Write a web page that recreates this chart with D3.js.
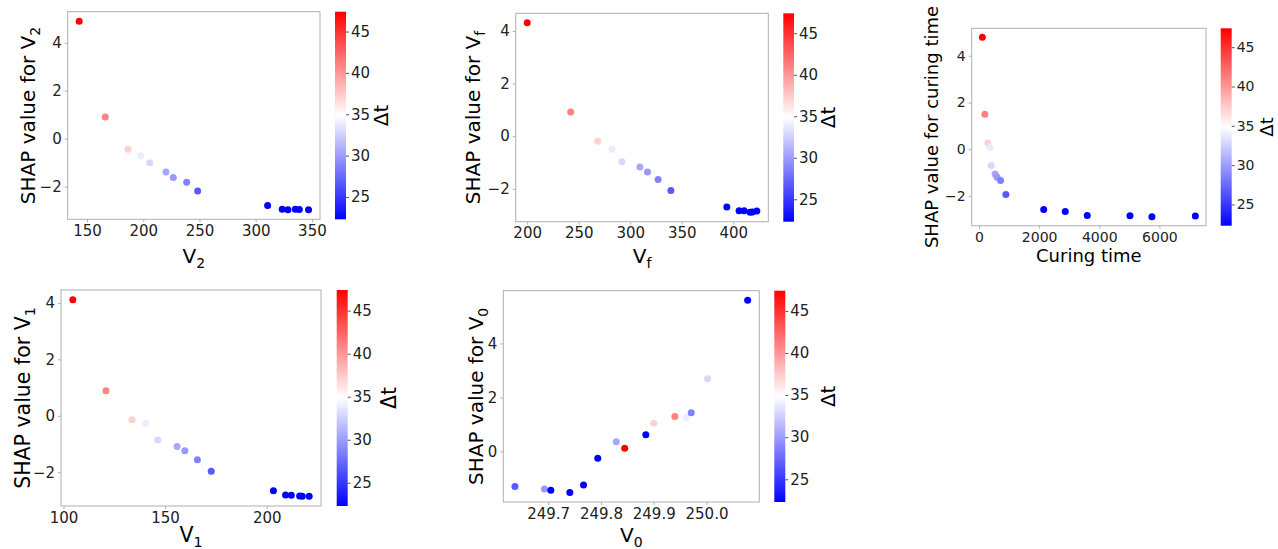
<!DOCTYPE html>
<html><head><meta charset="utf-8">
<script src="https://cdn.jsdelivr.net/npm/d3@7"></script>
<style>
body{margin:0;background:#fff}
svg{display:block}
text{font-family:"DejaVu Sans",sans-serif}
</style>
</head><body>
<svg id="chart" width="1278" height="549"></svg>
<script>
// ---------- data (15 samples, same order in every panel) ----------
const deltaT   = [47.4, 41.0, 37.1, 33.9, 32.9, 30.5, 29.8, 28.7, 26.7, 22.3, 22.3, 22.3, 22.3, 22.3, 22.3];

const v2       = [143, 166.2, 186.4, 197.7, 205.7, 220.2, 226.7, 238.6, 248.4, 310.6, 323.6, 328.7, 335.2, 338.8, 347];
const shapV2   = [4.90, 0.90, -0.44, -0.71, -1.01, -1.39, -1.62, -1.82, -2.18, -2.79, -2.94, -2.97, -2.94, -2.96, -2.97];

const vf       = [200, 242.2, 268.4, 282.2, 291.9, 309.4, 316.8, 327.1, 339.5, 393.8, 405.7, 410.6, 416.4, 418.7, 422.9];
const shapVf   = [4.31, 0.92, -0.19, -0.50, -0.97, -1.17, -1.36, -1.65, -2.06, -2.69, -2.83, -2.83, -2.89, -2.88, -2.84];

const curing     = [111, 196, 293, 359, 404, 535, 600, 717, 893, 2152, 2869, 3600, 5021, 5751, 7196];
const shapCuring = [4.79, 1.50, 0.27, 0.07, -0.70, -1.06, -1.20, -1.34, -1.94, -2.58, -2.67, -2.84, -2.85, -2.89, -2.86];

const v1       = [104.6, 120.9, 133.7, 140.4, 146.4, 155.9, 159.7, 165.9, 172.7, 203.3, 209.3, 212.1, 216.2, 217.5, 220.9];
const shapV1   = [4.11, 0.89, -0.14, -0.27, -0.86, -1.09, -1.24, -1.56, -1.97, -2.66, -2.81, -2.82, -2.84, -2.85, -2.85];

const v0       = [249.845, 249.94, 249.90, 249.961, 250.002, 249.829, 249.693, 249.971, 249.637, 249.705, 249.741, 249.767, 249.794, 249.885, 250.078];
const shapV0   = [0.12, 1.29, 1.04, 1.25, 2.69, 0.36, -1.39, 1.43, -1.30, -1.44, -1.52, -1.25, -0.25, 0.62, 5.60];

const ticksV2     = [150, 200, 250, 300, 350];
const ticksVf     = [200, 250, 300, 350, 400];
const ticksCuring = [0, 2000, 4000, 6000];
const ticksV1     = [100, 150, 200];
const ticksV0     = [249.7, 249.8, 249.9, 250.0];
const ticksShap   = [-2, 0, 2, 4];
const ticksShapV0 = [0, 2, 4];
const ticksDeltaT = [25, 30, 35, 40, 45];

const colorLabel = ["Δt", ""];

// ---------- layout (positions / styles only) ----------
const panels = [
  {x: v2, y: shapV2, xt: ticksV2, yt: ticksShap, xf: "d",
   xl: ["V","2"], yl: ["SHAP value for V","2"],
   box:[67.7,320,11.7,219.3], cb:[335,346], ylx:28, xly:263, cbl:381, tfs:15, lfs:20},
  {x: vf, y: shapVf, xt: ticksVf, yt: ticksShap, xf: "d",
   xl: ["V","f"], yl: ["SHAP value for V","f"],
   box:[515.7,768.3,13.3,221.7], cb:[783.3,794], ylx:473, xly:263, cbl:828, tfs:15, lfs:20},
  {x: curing, y: shapCuring, xt: ticksCuring, yt: ticksShap, xf: "d",
   xl: ["Curing time",""], yl: ["SHAP value for curing time",""],
   box:[971.7,1206,28.3,225.7], cb:[1220.7,1231.7], ylx:932, xly:262, cbl:1267, tfs:14, lfs:18},
  {x: v1, y: shapV1, xt: ticksV1, yt: ticksShap, xf: "d",
   xl: ["V","1"], yl: ["SHAP value for V","1"],
   box:[61,321,290,506], cb:[336.7,347.7], ylx:23, xly:542, cbl:389, tfs:15, lfs:20.5},
  {x: v0, y: shapV0, xt: ticksV0, yt: ticksShapV0, xf: ".1f",
   xl: ["V","0"], yl: ["SHAP value for V","0"],
   box:[503.3,759.3,290.7,502], cb:[774.3,785.3], ylx:476, xly:542, cbl:828, tfs:15, lfs:20}
];

const svg = d3.select("#chart");
const dtExt = d3.extent(deltaT);
const color = d3.scaleLinear()
  .domain([dtExt[0], (dtExt[0] + dtExt[1]) / 2, dtExt[1]])
  .range(["#0000ff", "#ffffff", "#ff0000"]);

// gradient for colourbars
const grad = svg.append("defs").append("linearGradient")
  .attr("id", "bwr").attr("x1", 0).attr("y1", 1).attr("x2", 0).attr("y2", 0);
d3.range(0, 1.0001, 0.1).forEach(t => {
  grad.append("stop").attr("offset", t)
    .attr("stop-color", color(dtExt[0] + t * (dtExt[1] - dtExt[0])));
});

function padded(arr) {
  const [a, b] = d3.extent(arr);
  const m = (b - a) * 0.05;
  return [a - m, b + m];
}

function label(g, parts, fs) {
  const t = g.append("text").attr("font-size", fs).attr("fill", "#000")
    .attr("text-anchor", "middle");
  t.append("tspan").text(parts[0]);
  if (parts[1]) t.append("tspan").attr("font-size", fs * 0.7).attr("dy", "0.35em").text(parts[1]);
  return t;
}

const spine = "#b0b0b0";
const tickCol = "#222";

panels.forEach(p => {
  const [x0, x1, y0, y1] = p.box;
  const xs = d3.scaleLinear().domain(padded(p.x)).range([x0, x1]);
  const ys = d3.scaleLinear().domain(padded(p.y)).range([y1, y0]);
  const g = svg.append("g");

  // frame
  g.append("rect").attr("x", x0).attr("y", y0).attr("width", x1 - x0).attr("height", y1 - y0)
    .attr("fill", "none").attr("stroke", spine).attr("stroke-width", 1);

  // axes
  const ax = g.append("g").attr("transform", `translate(0,${y1})`)
    .call(d3.axisBottom(xs).tickValues(p.xt).tickFormat(d3.format(p.xf)).tickSize(3).tickPadding(3));
  const ay = g.append("g").attr("transform", `translate(${x0},0)`)
    .call(d3.axisLeft(ys).tickValues(p.yt).tickFormat(d3.format("d")).tickSize(3).tickPadding(3));
  [ax, ay].forEach(a => {
    a.select(".domain").remove();
    a.selectAll(".tick line").attr("stroke", spine);
    a.selectAll(".tick text").attr("font-size", p.tfs).attr("fill", tickCol)
      .attr("font-family", "DejaVu Sans");
  });

  // points
  g.append("g").selectAll("circle")
    .data(d3.range(p.x.length))
    .join("circle")
    .attr("cx", i => xs(p.x[i]))
    .attr("cy", i => ys(p.y[i]))
    .attr("r", 3.5)
    .attr("fill", i => color(deltaT[i]));

  // axis labels
  label(g, p.xl, p.lfs).attr("x", (x0 + x1) / 2).attr("y", p.xly);
  label(g.append("g").attr("transform", `translate(${p.ylx},${(y0 + y1) / 2}) rotate(-90)`), p.yl, p.lfs)
    .attr("dy", "0.35em");

  // colourbar
  const [c0, c1] = p.cb;
  const cs = d3.scaleLinear().domain(dtExt).range([y1, y0]);
  g.append("rect").attr("x", c0).attr("y", y0).attr("width", c1 - c0).attr("height", y1 - y0)
    .attr("fill", "url(#bwr)");
  const ac = g.append("g").attr("transform", `translate(${c1},0)`)
    .call(d3.axisRight(cs).tickValues(ticksDeltaT).tickFormat(d3.format("d")).tickSize(3).tickPadding(2));
  ac.select(".domain").remove();
  ac.selectAll(".tick line").attr("stroke", "#555");
  ac.selectAll(".tick text").attr("font-size", p.tfs).attr("fill", tickCol).attr("font-family", "DejaVu Sans");
  label(g.append("g").attr("transform", `translate(${p.cbl},${(y0 + y1) / 2}) rotate(-90)`), colorLabel, p.lfs)
    .attr("dy", "0.35em");
});
</script>
</body></html>
